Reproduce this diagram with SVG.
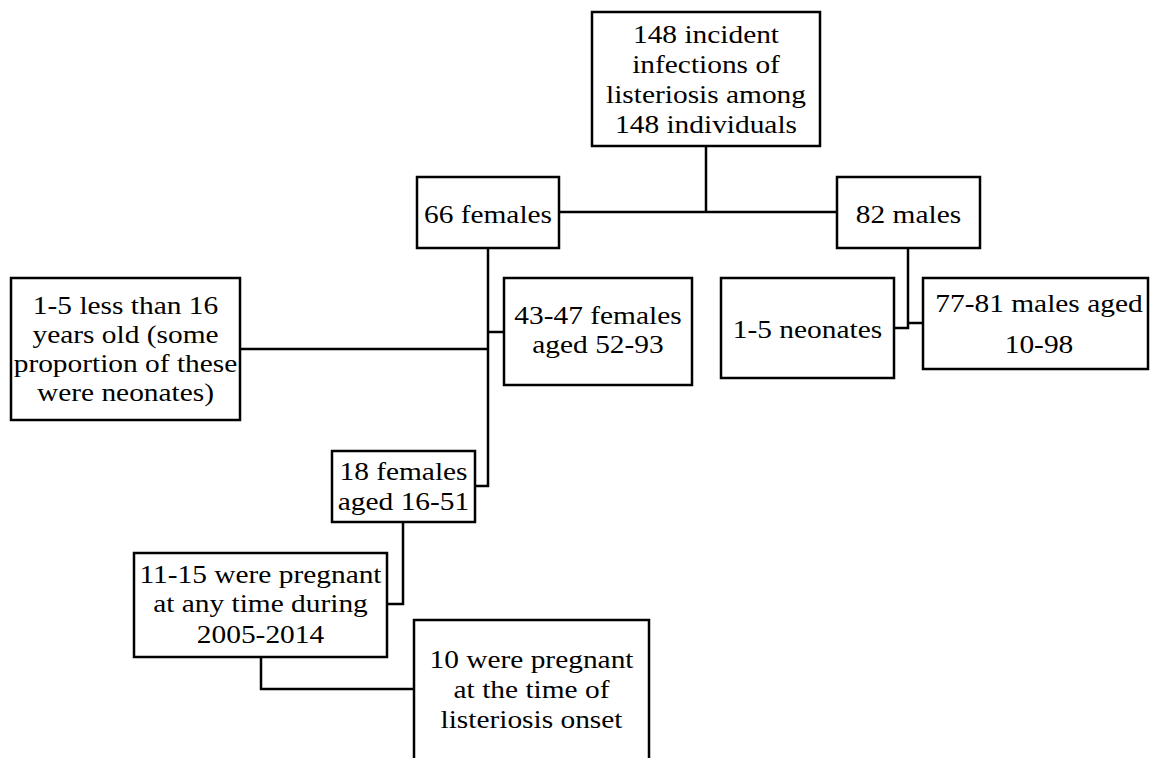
<svg xmlns="http://www.w3.org/2000/svg" width="1151" height="758" viewBox="0 0 1151 758">
<style>
.box{fill:#fff;stroke:#000;stroke-width:2.5}
.ln{fill:none;stroke:#000;stroke-width:2.5}
text{font-family:"Liberation Serif","Times New Roman",serif;font-size:24.5px;fill:#000;text-anchor:middle}
</style>
<rect width="1151" height="758" fill="#fff"/>
<g id="connectors">
<path class="ln" d="M706 146 V212 M559 212 H837"/>
<path class="ln" d="M488 248 V486 H475 M240 349 H488 M488 332 H504"/>
<path class="ln" d="M908 248 V328 H894 M908 323 H923"/>
<path class="ln" d="M403 522 V604 H387"/>
<path class="ln" d="M261 657 V689 H414"/>
</g>
<g id="n_total">
<rect class="box" x="592" y="12" width="228" height="134"/>
<text transform="translate(706 0) scale(1.2 1)" x="0" y="43">148 incident</text>
<text transform="translate(706 0) scale(1.2 1)" x="0" y="73">infections of</text>
<text transform="translate(706 0) scale(1.2 1)" x="0" y="103">listeriosis among</text>
<text transform="translate(706 0) scale(1.2 1)" x="0" y="133">148 individuals</text>
</g>
<g id="n_females">
<rect class="box" x="417" y="177" width="142" height="71"/>
<text transform="translate(488 0) scale(1.2 1)" x="0" y="223">66 females</text>
</g>
<g id="n_males">
<rect class="box" x="837" y="177" width="143" height="71"/>
<text transform="translate(908.5 0) scale(1.2 1)" x="0" y="223">82 males</text>
</g>
<g id="n_under16">
<rect class="box" x="11" y="278" width="229" height="142"/>
<text transform="translate(125.5 0) scale(1.2 1)" x="0" y="314">1-5 less than 16</text>
<text transform="translate(125.5 0) scale(1.2 1)" x="0" y="343">years old (some</text>
<text transform="translate(125.5 0) scale(1.2 1)" x="0" y="372">proportion of these</text>
<text transform="translate(125.5 0) scale(1.2 1)" x="0" y="401">were neonates)</text>
</g>
<g id="n_f52">
<rect class="box" x="504" y="278" width="188" height="107"/>
<text transform="translate(598 0) scale(1.2 1)" x="0" y="324">43-47 females</text>
<text transform="translate(598 0) scale(1.2 1)" x="0" y="353">aged 52-93</text>
</g>
<g id="n_neonates">
<rect class="box" x="721" y="278" width="173" height="100"/>
<text transform="translate(807.5 0) scale(1.2 1)" x="0" y="338">1-5 neonates</text>
</g>
<g id="n_m10">
<rect class="box" x="923" y="278" width="225" height="91"/>
<text transform="translate(1039 0) scale(1.2 1)" x="0" y="312">77-81 males aged</text>
<text transform="translate(1039 0) scale(1.2 1)" x="0" y="353">10-98</text>
</g>
<g id="n_f16">
<rect class="box" x="332" y="451" width="143" height="71"/>
<text transform="translate(403.5 0) scale(1.2 1)" x="0" y="480">18 females</text>
<text transform="translate(403.5 0) scale(1.2 1)" x="0" y="510">aged 16-51</text>
</g>
<g id="n_preg_any">
<rect class="box" x="134" y="553" width="253" height="104"/>
<text transform="translate(260.5 0) scale(1.2 1)" x="0" y="583">11-15 were pregnant</text>
<text transform="translate(260.5 0) scale(1.2 1)" x="0" y="612">at any time during</text>
<text transform="translate(260.5 0) scale(1.2 1)" x="0" y="643">2005-2014</text>
</g>
<g id="n_preg_onset">
<rect class="box" x="414" y="620" width="235" height="160"/>
<text transform="translate(531.5 0) scale(1.2 1)" x="0" y="668">10 were pregnant</text>
<text transform="translate(531.5 0) scale(1.2 1)" x="0" y="698">at the time of</text>
<text transform="translate(531.5 0) scale(1.2 1)" x="0" y="728">listeriosis onset</text>
</g>
</svg>
